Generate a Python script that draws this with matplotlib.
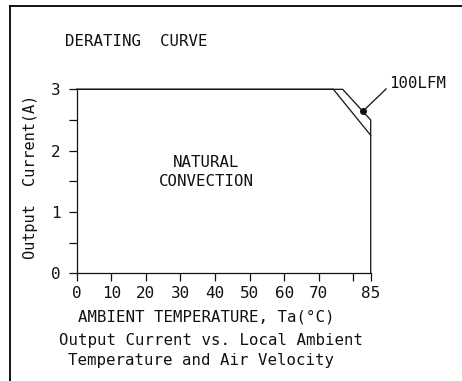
import matplotlib.pyplot as plt
from matplotlib.lines import Line2D

# derating curves: temperature (C) vs max output current (A)
natural_temp = [0, 74.2, 85]
natural_curr = [3, 3, 2.25]
lfm_temp = [0, 76.9, 85, 85]
lfm_curr = [3, 3, 2.5, 0]
lfm_point = (82.7, 2.64)

x_ticks = [0, 10, 20, 30, 40, 50, 60, 70, 80, 85]
x_labels = ["0", "10", "20", "30", "40", "50", "60", "70", "", "85"]
y_ticks = [0, 1, 2, 3]

plt.rcParams["font.family"] = "DejaVu Sans Mono"
ink = "#111111"
fs = 11.3

fig = plt.figure(figsize=(4.62, 3.81), dpi=100)
ax = fig.add_axes([76.7 / 462, 1 - 273.3 / 381, 294 / 462, 184 / 381])

ax.plot(natural_temp, natural_curr, color=ink, lw=0.9, clip_on=False)
ax.plot(lfm_temp, lfm_curr, color=ink, lw=0.9, clip_on=False)
ax.plot(*lfm_point, "o", color=ink, ms=4, clip_on=False)

ax.annotate("100LFM", xy=lfm_point, xytext=(90.3, 3.1), fontsize=fs,
            ha="left", va="center", color=ink, annotation_clip=False,
            arrowprops=dict(arrowstyle="-", color=ink, lw=0.9,
                            shrinkA=0, shrinkB=0, relpos=(0, 0.3)))

ax.text(37.4, 1.8, "NATURAL", ha="center", va="center", fontsize=fs, color=ink)
ax.text(37.4, 1.5, "CONVECTION", ha="center", va="center", fontsize=fs, color=ink)

ax.set_xlim(0, 85)
ax.set_ylim(0, 3)
ax.set_xticks(x_ticks)
ax.set_xticklabels(x_labels)
ax.set_yticks(y_ticks)
ax.set_yticks([0.5, 1.5, 2.5], minor=True)
ax.tick_params(axis="both", which="both", direction="out", length=5.8,
               width=0.9, color=ink, labelsize=11.5, labelcolor=ink)
ax.tick_params(axis="y", pad=6)
ax.tick_params(axis="x", pad=3)

for side in ["top", "right"]:
    ax.spines[side].set_visible(False)
for side in ["left", "bottom"]:
    ax.spines[side].set_color(ink)
    ax.spines[side].set_linewidth(0.9)

ax.set_ylabel("Output  Current(A)", fontsize=11, color=ink)
ax.yaxis.set_label_coords(-0.133, 0.523)

fig.text(65 / 462, 1 - 42 / 381, "DERATING  CURVE", fontsize=fs,
         ha="left", va="center", color=ink)
fig.text(206.7 / 462, 1 - 316.7 / 381, "AMBIENT TEMPERATURE, Ta(°C)",
         fontsize=fs, ha="center", va="center", color=ink)
fig.text(210.7 / 462, 1 - 340 / 381, "Output Current vs. Local Ambient",
         fontsize=fs, ha="center", va="center", color=ink)
fig.text(201 / 462, 1 - 360 / 381, "Temperature and Air Velocity",
         fontsize=fs, ha="center", va="center", color=ink)

# sheet frame: top and left edges only
fig.add_artist(Line2D([10 / 462, 1], [1 - 5.5 / 381, 1 - 5.5 / 381],
                      color="black", lw=1.3))
fig.add_artist(Line2D([10 / 462, 10 / 462], [0, 1 - 5.5 / 381],
                      color="black", lw=1.3))

fig.savefig("out.png", dpi=100)
